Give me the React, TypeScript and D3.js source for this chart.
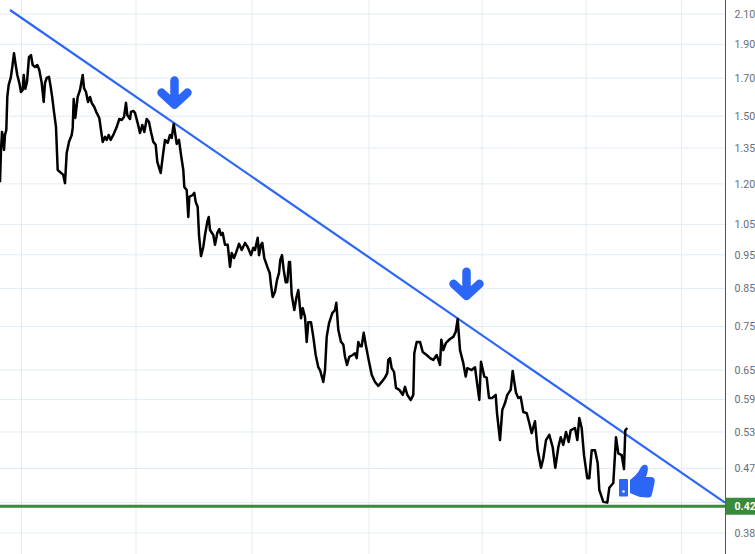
import React from "react";
import * as d3 from "d3";

const W = 755, H = 554;
const priceTicks = [2.1, 1.9, 1.7, 1.5, 1.35, 1.2, 1.05, 0.95, 0.85, 0.75, 0.65, 0.59, 0.53, 0.47, 0.42, 0.38];
const gridDays = [21.5, 136, 252, 369, 482, 586, 681.5];
const days = [0,1,2,3,4,5,6.3,7.3,8.7,10.7,12.3,14,15.7,17.3,19.3,21,22.7,23.7,25.3,27,29,31,32.7,35,37.3,39.3,41.7,43.7,45,46.7,49,50.7,52.3,54,56,57.7,63.3,65,66.7,69,71.7,72.7,73.7,75.3,77.7,80,82.7,84,86,88,90,91.7,94.3,96.7,99.3,102.7,105,106.7,108.7,110.7,113.3,116.7,119.3,121.7,124,126,127.3,130,131,133.3,135,137.7,140,142.3,144.3,146.7,149,151,153.3,155.7,157.3,160.7,162.7,165,167.7,170,171.7,173.7,175.7,176.7,179,181,183.3,184.3,186.7,188.3,189.3,192.7,194.3,195.7,197.7,199,201,203.3,205,207.3,208.7,210,213.3,215,217.3,219.3,221,222.7,225,227.7,230,231.7,234,236,239,241.7,245,247.7,251,253.3,255,257.7,259,261,262.3,264.3,267.7,269.7,271,272.7,275,277,279,280.3,282,283.7,285.7,287.3,289,290,291.7,294.3,296.3,298.3,301,302.7,305,306.7,308.3,311,313.3,315.7,318.3,320,323.3,325,326.7,329,332.3,335,336.3,338.3,341,343.3,345,347,349.3,352.7,355,356.7,358.3,360,361.7,363.7,365.7,368.3,371.7,375,378.3,381.7,385,387.3,388.3,390,391.7,394,396,399.3,402.7,405,407.3,410.7,413.3,414.3,416.7,420,422.7,426.7,430,433.3,436.7,438.3,440,441.3,443.3,446,450,453.3,455.7,457.7,460,463.3,465.7,467.3,471.7,475,477.3,479.3,481,484.3,486.7,489,492.3,495.7,497,500,502.3,505,507.3,510.7,512.7,514.3,516,518.3,520.7,523.3,526.7,529.3,531.7,535,537.7,541,543.3,546,549.3,552.7,555.3,558.3,560.7,563.3,566,568.7,570.7,575,577.3,579.3,581.7,584,587.3,589.3,591.7,595,597.7,599.3,603.3,607.3,609.3,613.3,616,618.3,621.7,624,625.3,627.3];
const prices = [1.207,1.342,1.424,1.401,1.342,1.41,1.433,1.598,1.663,1.701,1.764,1.846,1.775,1.718,1.674,1.624,1.635,1.718,1.641,1.679,1.822,1.834,1.775,1.764,1.775,1.746,1.674,1.572,1.674,1.701,1.707,1.652,1.593,1.521,1.447,1.256,1.236,1.203,1.329,1.378,1.41,1.443,1.587,1.491,1.598,1.635,1.718,1.646,1.624,1.572,1.598,1.567,1.546,1.516,1.491,1.378,1.401,1.387,1.41,1.387,1.41,1.447,1.486,1.481,1.496,1.567,1.506,1.486,1.521,1.526,1.516,1.466,1.419,1.457,1.424,1.486,1.471,1.424,1.378,1.365,1.29,1.244,1.311,1.387,1.374,1.41,1.396,1.462,1.401,1.369,1.387,1.32,1.256,1.188,1.176,1.076,1.15,1.157,1.165,1.131,1.112,1.014,0.946,0.975,1.014,1.059,1.076,1.031,1.014,0.982,1.021,1.034,1.014,1.021,0.982,0.982,0.913,0.956,0.94,0.956,0.985,0.965,0.988,0.975,0.949,0.972,0.965,1.005,0.949,0.982,0.988,0.94,0.91,0.895,0.86,0.827,0.841,0.874,0.895,0.934,0.949,0.904,0.868,0.868,0.928,0.928,0.833,0.792,0.824,0.846,0.771,0.797,0.774,0.713,0.761,0.761,0.725,0.683,0.656,0.65,0.625,0.65,0.725,0.758,0.784,0.792,0.811,0.742,0.713,0.707,0.679,0.661,0.679,0.683,0.687,0.676,0.713,0.703,0.703,0.735,0.707,0.676,0.64,0.625,0.617,0.625,0.634,0.644,0.672,0.676,0.654,0.646,0.613,0.609,0.599,0.615,0.599,0.589,0.599,0.687,0.713,0.713,0.69,0.683,0.676,0.672,0.683,0.672,0.661,0.718,0.694,0.711,0.72,0.725,0.737,0.769,0.694,0.665,0.636,0.654,0.65,0.656,0.619,0.589,0.668,0.636,0.634,0.593,0.593,0.599,0.564,0.516,0.57,0.583,0.599,0.609,0.648,0.625,0.603,0.593,0.595,0.566,0.564,0.546,0.528,0.549,0.499,0.471,0.486,0.516,0.525,0.504,0.471,0.504,0.521,0.508,0.53,0.513,0.533,0.537,0.516,0.555,0.537,0.491,0.455,0.455,0.499,0.499,0.478,0.438,0.421,0.42,0.441,0.448,0.521,0.494,0.491,0.469,0.533,0.537];
const trendDays = [10, 725];
const trendPrices = [2.128, 0.42];
const supportPrice = 0.415;
const supportLabel = "0.42";
const arrowDays = [174.5, 466.5];
const arrowPrices = [1.538, 0.819];

const x = d3.scaleLinear().domain([0, 725.5]).range([0, 725.5]);
const y = d3.scaleLog().domain([2.1, 0.38]).range([14, 533]);
const grid = "#e2ecf4";
const blue = "#2b66f6";

const line = d3.line<number>().x((_, i) => x(days[i])).y((p) => y(p));
const trend = d3.line<number>().x((_, i) => x(trendDays[i])).y((p) => y(p));

export default function App() {
  const axisX = x(725.5);
  return (
    <svg width={W} height={H} viewBox={`0 0 ${W} ${H}`}
      style={{ position: "absolute", left: 0, top: 0, background: "#fff" }}>
      {priceTicks.map((t) => (
        <line key={t} x1={0} x2={axisX} y1={y(t)} y2={y(t)} stroke={grid} strokeWidth={1} />
      ))}
      {gridDays.map((d) => (
        <line key={d} x1={x(d)} x2={x(d)} y1={0} y2={H} stroke={grid} strokeWidth={1} />
      ))}
      <path d={trend(trendPrices) ?? ""} fill="none" stroke={blue} strokeWidth={2.2} />
      <path d={line(prices) ?? ""} fill="none" stroke="#000" strokeWidth={2.5} strokeLinejoin="round" />
      <line x1={0} x2={axisX} y1={y(supportPrice)} y2={y(supportPrice)} stroke="#3a8a3c" strokeWidth={3} />
      <line x1={axisX} x2={axisX} y1={0} y2={H} stroke="#50535e" strokeWidth={1} />
      {priceTicks.filter((t) => t !== 0.42).map((t) => (
        <text key={t} x={734.5} y={y(t)} dy="0.36em" fontFamily="Roboto" fontSize={10.6} fill="#6a6d78">
          {t.toFixed(2)}
        </text>
      ))}
      <rect x={axisX} y={y(supportPrice) - 8.5} width={W - axisX} height={17} fill="#3a8a3c" />
      <text x={734.5} y={y(supportPrice)} dy="0.36em" fontFamily="Roboto" fontSize={10.6} fontWeight={700} fill="#fff">
        {supportLabel}
      </text>
      {arrowDays.map((d, i) => (
        <g key={d} transform={`translate(${x(d)},${y(arrowPrices[i])})`} fill="none" stroke={blue}
          strokeWidth={8.5} strokeLinecap="round" strokeLinejoin="round">
          <path d="M0 -28V-4M-13 -16L0 -4L13 -16" />
        </g>
      ))}
      <g fill={blue}>
        <rect x={619} y={479} width={9} height={17.5} rx={1} />
        <circle cx={623.5} cy={491.5} r={1.3} fill="#fff" />
        <path d="M630 480C634 477 638 473 640 469C641 466 644 464 646 465C649 466 648 472 646 477L651 477C655 477 655 481 654.5 483L652 494C651.5 497 650 497.5 647 497.5L640 497C636 496 633 494 630 493Z" />
      </g>
    </svg>
  );
}
